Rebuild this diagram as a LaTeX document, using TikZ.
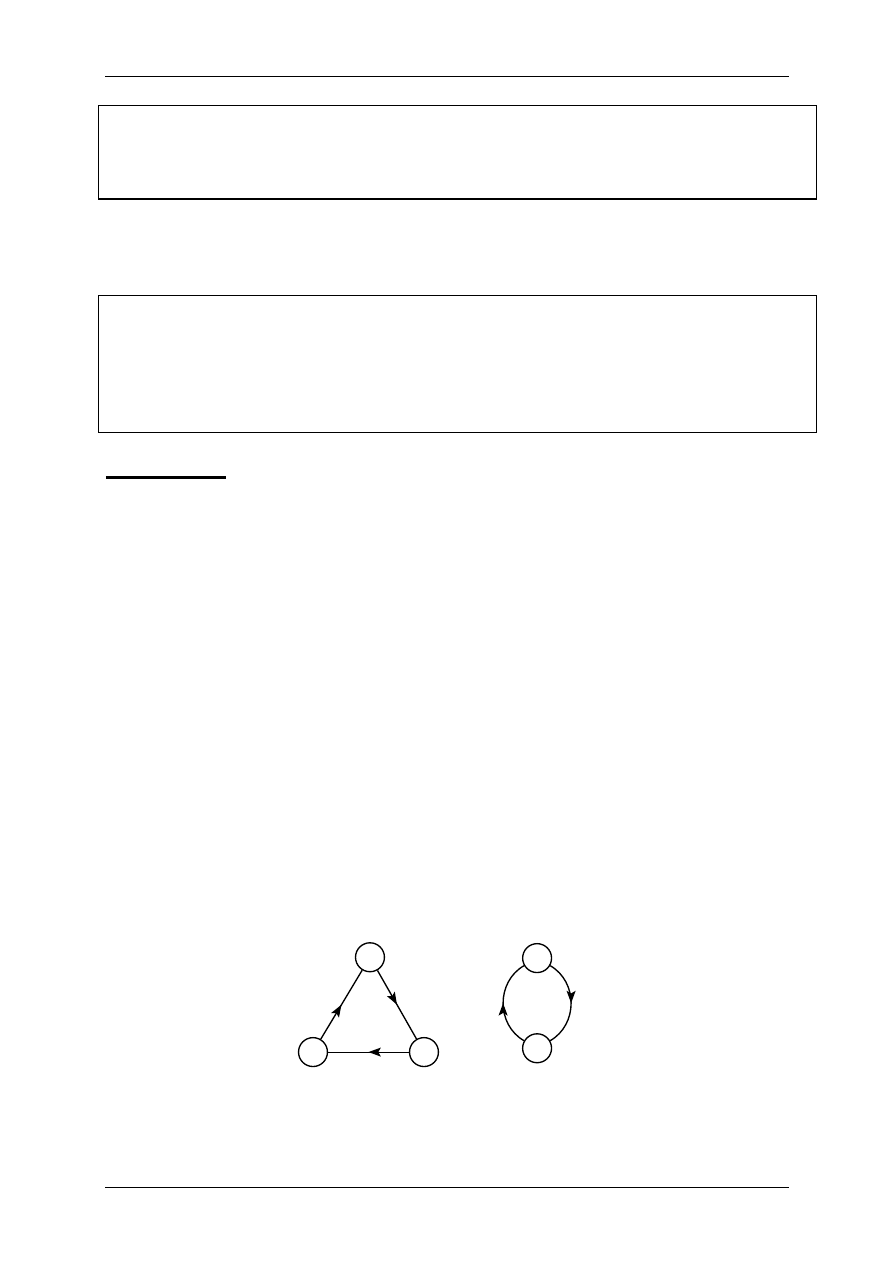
\documentclass[tikz,border=0pt]{standalone}
\usetikzlibrary{arrows.meta,decorations.markings}
\begin{document}
\begin{tikzpicture}[
        vertex/.style={circle,draw,line width=0.9pt,minimum size=6.8mm,inner sep=0pt},
        midarrow/.style={postaction={decorate},decoration={markings,mark=at position 0.5 with {\arrow{Stealth[length=2.9mm,width=2.1mm,inset=0.6mm]}}}}
    ]
        \useasboundingbox (0,0) rectangle (21,-29.7);
        \draw[line width=0.6pt] (2.47,-1.79) -- (18.56,-1.79);
        \draw[line width=0.7pt] (2.31,-2.49) rectangle (19.19,-4.68);
        \draw[line width=0.7pt] (2.31,-6.94) rectangle (19.19,-10.16);
        \draw[line width=2pt] (2.49,-11.24) -- (5.32,-11.24);
        \draw[line width=0.6pt] (2.47,-27.92) -- (18.56,-27.92);
        % triangle
        \node[vertex] (top) at (8.70,-22.51) {};
        \node[vertex] (left) at (7.36,-24.74) {};
        \node[vertex] (right) at (9.97,-24.74) {};
        \draw[line width=0.9pt,midarrow] (left) -- (top);
        \draw[line width=0.9pt,midarrow] (top) -- (right);
        \draw[line width=0.7pt,midarrow] (right) -- (left);
        % two-node loop
        \node[vertex] (upper) at (12.63,-22.53) {};
        \node[vertex] (lower) at (12.63,-24.65) {};
        \draw[line width=0.9pt,midarrow] (lower) to[out=150,in=-150,looseness=1.1] (upper);
        \draw[line width=0.9pt,midarrow] (upper) to[out=-30,in=30,looseness=1.1] (lower);
    \end{tikzpicture}
\end{document}
